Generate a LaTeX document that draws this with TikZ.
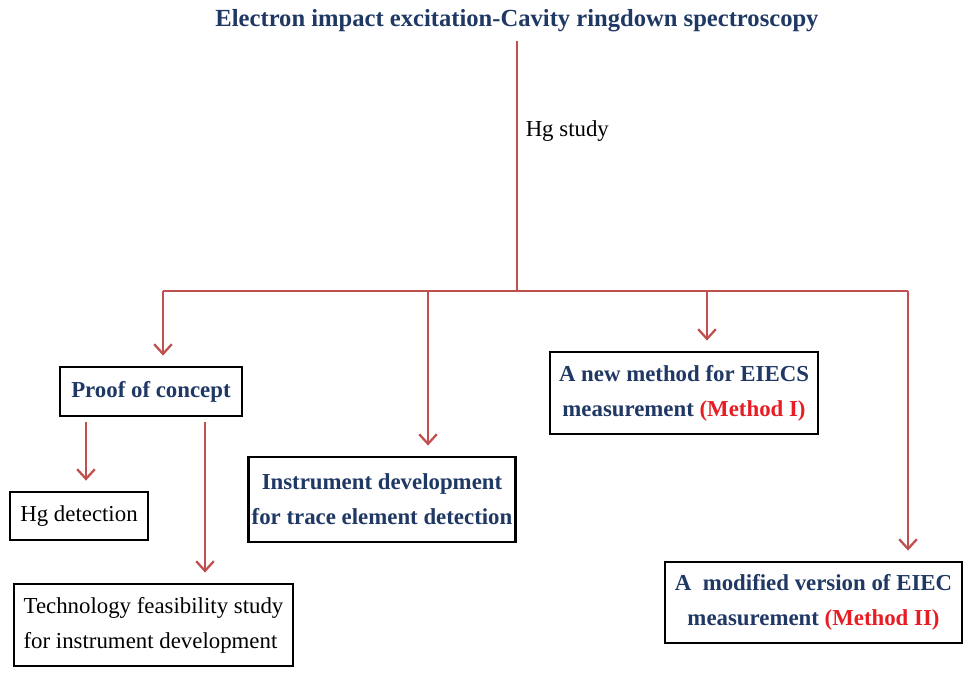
\documentclass[tikz,border=0pt]{standalone}
\usepackage{fontspec}
\setmainfont{Liberation Serif}
\usetikzlibrary{arrows.meta, positioning}
\definecolor{linkred}{RGB}{192,80,77}
\definecolor{headblue}{RGB}{31,56,100}
\definecolor{methodred}{RGB}{232,28,36}

\begin{document}
\begin{tikzpicture}[x=0.02cm, y=-0.02cm,
    box/.style={draw=black, line width=1.6pt, fill=white, inner sep=2pt,
      font=\fontsize{13}{20}\selectfont},
    head/.style={text=headblue, font=\fontsize{13}{20}\selectfont\bfseries},
    link/.style={draw=linkred, line width=1.3pt},
    arr/.style={link, -{Straight Barb[length=5.5pt, width=10pt]}, shorten >=10*0.02cm}]
  \useasboundingbox (0,0) rectangle (965,676);
  % title and stem
  \node[head, font=\fontsize{14}{17}\selectfont\bfseries] (title) at (517,21)
    {Electron impact excitation-Cavity ringdown spectroscopy};
  \coordinate (stem) at (517,291);
  \draw[link] ([yshift=-3*0.02cm]title.south) -- (stem) node[pos=0.36, right=1pt, black,
    font=\fontsize{13}{15}\selectfont] (hg) {Hg study};
  % bus line
  \coordinate (busL) at (163,291);
  \coordinate (busB) at (428,291);
  \coordinate (busC) at (707,291);
  \coordinate (busR) at (908,291);
  \draw[link] (busL) -- (busR);
  % boxes
  \node[box, head, minimum width=182*0.02cm, minimum height=49*0.02cm] (proof) at (151,391.5)
    {Proof of concept};
  \node[box, minimum width=138*0.02cm, minimum height=48*0.02cm] (hgdet) at (79,516)
    {Hg detection};
  \node[box, align=left, minimum width=279*0.02cm, minimum height=82*0.02cm] (tech) at (153.5,625)
    {Technology feasibility study\\for instrument development};
  \node[box, head, align=center, minimum width=260*0.02cm, minimum height=85*0.02cm] (instr) at (382,499.5)
    {Instrument development\\for trace element detection};
  \node[box, head, align=center, minimum width=268*0.02cm, minimum height=82*0.02cm] (meth1) at (684,393)
    {A new method for EIECS\\measurement \textcolor{methodred}{(Method I)}};
  \node[box, head, align=center, minimum width=297*0.02cm, minimum height=81*0.02cm] (meth2) at (813.5,602.5)
    {A\ \ modified version of EIEC\\measurement \textcolor{methodred}{(Method II)}};
  % arrows from the bus
  \draw[arr] (busL) -- (busL |- proof.north);
  \draw[arr] (busB) -- (busB |- instr.north);
  \draw[arr] (busC) -- (busC |- meth1.north);
  \draw[arr] (busR) -- (busR |- meth2.north);
  % arrows from proof of concept
  \coordinate (p1) at ([yshift=-5*0.02cm]proof.south -| 86,0);
  \coordinate (p2) at ([yshift=-5*0.02cm]proof.south -| 205,0);
  \draw[arr] (p1) -- (p1 |- hgdet.north);
  \draw[arr] (p2) -- (p2 |- tech.north);
\end{tikzpicture}
\end{document}
